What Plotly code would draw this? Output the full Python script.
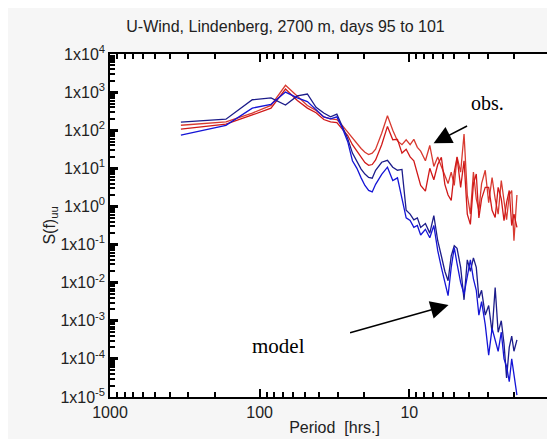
import numpy as np
import plotly.graph_objects as go

# Period axis (hours) of the spectral estimates
period_hrs = [336, 168, 112, 84, 67.2, 56, 48, 42, 37.3, 33.6, 30.5, 28, 25.8, 24, 22.4, 21, 19.8, 18.7,
              17.7, 16.8, 15.3, 14, 12.9, 12, 11.2, 10.5, 9.88, 9.33, 8.84, 8.4, 7.81, 7.3, 6.86, 6.46,
              6.11, 5.79, 5.51, 5.25, 5.01, 4.8, 4.54, 4.31, 4.1, 3.91, 3.73, 3.57, 3.43, 3.29, 3.11,
              2.95, 2.8, 2.67, 2.55, 2.43, 2.33, 2.24, 2.15, 2.07, 2.0, 1.91]

# Spectral density, as log10(S(f)uu)
obs_a_log10 = [2.13, 2.22, 2.45, 2.65, 3.18, 2.88, 2.65, 2.52, 2.35, 2.3, 2.28, 2.12, 1.95, 1.78, 1.65, 1.52,
               1.42, 1.36, 1.40, 1.50, 1.92, 2.38, 2.0, 1.72, 1.62, 1.75, 1.62, 1.76, 1.55, 1.45, 1.2, 1.6,
               1.05, 1.3, 1.05, 0.8, 0.6, 0.9, 0.55, 1.3, 0.9, 1.9, 0.3, -0.2, 0.9, 0.2, -0.1, 0.6, 0.95,
               0.1, 0.76, 0.2, -0.2, 0.68, 0.1, -0.35, 0.3, 0.42, -0.9, 0.3]
obs_b_log10 = [2.03, 2.16, 2.40, 2.58, 3.08, 2.78, 2.58, 2.46, 2.28, 2.22, 2.2, 2.02, 1.86, 1.62, 1.45, 1.3,
               1.15, 1.08, 1.10, 1.22, 1.62, 2.1, 1.75, 1.76, 1.4, 1.5, 1.3, 1.2, 0.9, 0.55, 0.4, 1.0,
               0.7, 1.1, 1.29, 0.58, 0.3, 0.16, 0.9, 1.29, 0.5, 1.2, -0.2, -0.47, 0.6, 0.85, -0.3, 0.2, 0.5,
               0.5, -0.1, -0.29, 0.5, 0.2, -0.37, 0.1, 0.42, -0.5, -0.2, -0.55]
model_a_log10 = [2.21, 2.29, 2.80, 2.85, 2.66, 2.90, 2.95, 2.6, 2.45, 2.35, 2.42, 2.1, 1.78, 1.4, 1.2, 0.98,
                 0.85, 0.76, 0.74, 0.95, 1.16, 1.21, 1.03, 0.95, 0.97, -0.1, -0.2, -0.35, -0.3, -0.55, -0.45,
                 -0.7, -0.24, -0.9, -1.3, -1.7, -1.95, -1.3, -1.03, -1.1, -1.6, -2.45, -1.4, -1.7, -1.35,
                 -1.6, -2.4, -2.2, -2.85, -2.6, -3.3, -2.13, -3.3, -3.0, -3.6, -4.5, -3.7, -3.4, -3.8, -3.5]
model_b_log10 = [1.87, 2.13, 2.58, 2.68, 3.0, 2.85, 2.75, 2.55, 2.35, 2.3, 2.35, 2.05, 1.7, 1.2, 1.0, 0.75,
                 0.55, 0.42, 0.38, 0.58, 0.84, 1.03, 0.68, 0.75, 0.2, -0.3, -0.37, -0.55, -0.5, -0.75, -0.6,
                 -0.82, -0.5, -1.16, -1.6, -2.0, -2.34, -1.6, -1.08, -1.5, -2.0, -2.3, -1.8, -1.4, -1.9,
                 -2.2, -2.85, -2.5, -3.1, -3.9, -3.2, -3.5, -3.8, -3.3, -4.0, -4.2, -4.6, -4.0, -4.4, -4.95]

x_tick_vals = [1000, 100, 10, 1]
x_tick_text = ["1000", "100", "10", "1"]
y_exponents = [4, 3, 2, 1, 0, -1, -2, -3, -4, -5]
y_tick_text = ["1x10<sup>%d</sup>" % e for e in y_exponents]
y_tick_vals = [10.0 ** e for e in y_exponents]

# obs. curves on the labelled axes, model curves on an overlay with identical ranges
# (the overlay axes draw the 2..9 minor ticks of each decade)
series = [
    ("obs. 1", obs_a_log10, "#d83a30", "x", "y"),
    ("obs. 2", obs_b_log10, "#d01818", "x", "y"),
    ("model 1", model_a_log10, "#1c1c8a", "x2", "y2"),
    ("model 2", model_b_log10, "#1414d6", "x2", "y2"),
]

fig = go.Figure()
for name, vals, col, xa, ya in series:
    fig.add_trace(go.Scatter(x=period_hrs, y=np.power(10.0, vals), mode="lines", name=name,
                             xaxis=xa, yaxis=ya,
                             line=dict(color=col, width=1.3), showlegend=False))

axis_font = dict(family="Liberation Sans, Arial, sans-serif", size=16, color="#222")
fig.update_layout(
    xaxis=dict(type="log", range=[3, 0], tickmode="array", tickvals=x_tick_vals, ticktext=x_tick_text,
               ticks="inside", ticklen=8, tickwidth=2, tickcolor="black", mirror="ticks",
               showline=True, linecolor="black", linewidth=1.5, showgrid=False, zeroline=False,
               tickfont=axis_font, title=dict(text="Period  [hrs.]", font=axis_font, standoff=2)),
    yaxis=dict(type="log", range=[-5, 4], tickmode="array", tickvals=y_tick_vals, ticktext=y_tick_text,
               ticks="inside", ticklen=8, tickwidth=3, tickcolor="black", mirror="ticks",
               showline=True, linecolor="black", linewidth=1.5, showgrid=False, zeroline=False,
               tickfont=axis_font, title=dict(text="S(f)<sub>uu</sub>", font=axis_font, standoff=0)),
    xaxis2=dict(type="log", range=[3, 0], overlaying="x", anchor="y2", tickmode="linear", dtick="D1",
                ticks="inside", ticklen=5, tickwidth=1.5, tickcolor="black", mirror="ticks",
                showticklabels=False, showgrid=False, zeroline=False, showline=False),
    yaxis2=dict(type="log", range=[-5, 4], overlaying="y", anchor="x2", tickmode="linear", dtick="D1",
                ticks="inside", ticklen=5, tickwidth=1.5, tickcolor="black", mirror="ticks",
                showticklabels=False, showgrid=False, zeroline=False, showline=False),
)

fig.add_annotation(x=0.478, y=2.714, xref="x", yref="y", text="obs.", showarrow=False,
                   font=dict(family="Liberation Serif, Times New Roman, serif", size=20, color="black"))
fig.add_annotation(x=1.876, y=-3.664, xref="x", yref="y", text="model", showarrow=False,
                   font=dict(family="Liberation Serif, Times New Roman, serif", size=21, color="black"))
fig.add_annotation(x=0.838, y=1.658, xref="x", yref="y", ax=35, ay=-18, text="", showarrow=True,
                   arrowhead=2, arrowsize=2.4, arrowwidth=1.5, arrowcolor="black")
fig.add_annotation(x=0.738, y=-2.588, xref="x", yref="y", ax=-100, ay=28, text="", showarrow=True,
                   arrowhead=2, arrowsize=2.4, arrowwidth=1.5, arrowcolor="black")

fig.update_layout(
    width=555, height=439,
    margin=dict(l=102, r=2, t=46, b=50),
    paper_bgcolor="#f6f6f6", plot_bgcolor="white",
    title=dict(text="U-Wind, Lindenberg, 2700 m, days 95 to 101", x=0.5, xanchor="center",
               y=0.958, yanchor="middle",
               font=dict(family="Liberation Sans, Arial, sans-serif", size=16, color="#222")),
)

fig.write_html("out.html")
